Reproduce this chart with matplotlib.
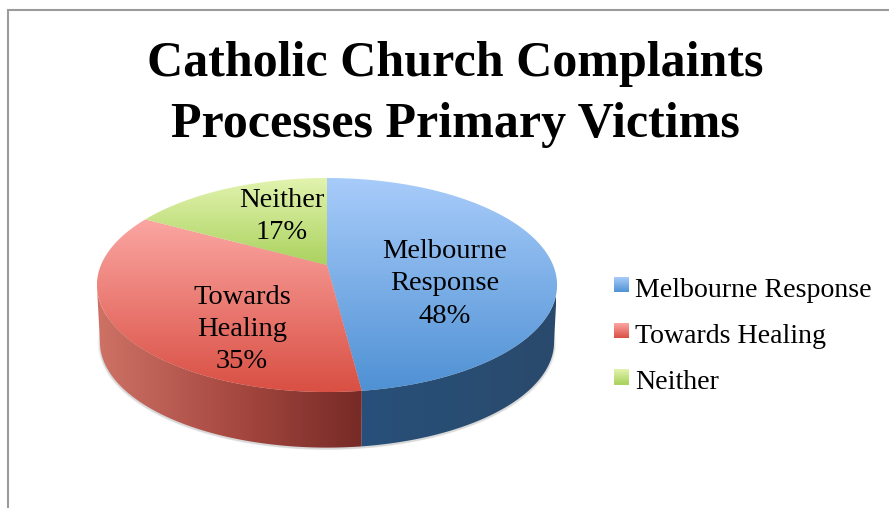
import numpy as np
import matplotlib
matplotlib.use("Agg")
import matplotlib.pyplot as plt
from matplotlib.patches import Polygon, Rectangle, Patch
from matplotlib.colors import LinearSegmentedColormap
from matplotlib.legend_handler import HandlerBase

# ---- data ----
title = "Catholic Church Complaints\nProcesses Primary Victims"
categories = ["Melbourne Response", "Towards Healing", "Neither"]
slice_labels = ["Melbourne\nResponse", "Towards\nHealing", "Neither"]
values = [48, 35, 17]

# ---- styles ----
FONT = ["Liberation Serif", "DejaVu Serif"]
top_colors = [("#A8CCFA", "#4F91D4"), ("#FBA6A2", "#D94F43"), ("#E2F3AE", "#ABD25F")]
wall_colors = [["#28507A", "#2A4A6C"], ["#CE7266", "#A84A42", "#772A26"]]
label_pos = [(445, 284), (242, 329.5), (282, 216.5)]
legend_fs = 20.1
label_fs = 20.5

fig = plt.figure(figsize=(8.89, 5.08), dpi=100, facecolor="white")
ax = fig.add_axes([0, 0, 1, 1])
ax.set_xlim(0, 889)
ax.set_ylim(508, 0)
ax.axis("off")

# perspective projection of the unit disc on to the picture
CX, CY0, R, K, A = 327.0, 265.0, 226.0, 0.187, -53.7
ELL_CY = 285.0
DEPTH, BOTTOM_SCALE = 57.0, 0.987


def project(px, py):
    w = 1 + K * py
    return CX + R * px / w, (CY0 + A * py) / w


def arc(frac0, frac1, n=200):
    t = 2 * np.pi * np.linspace(frac0, frac1, n)
    return project(np.sin(t), np.cos(t))


def lower(x, y, s=BOTTOM_SCALE, d=DEPTH):
    return CX + (x - CX) * s, ELL_CY + (y - ELL_CY) * s + d


def gradient(poly, extent, cmap, horizontal=False, z=2):
    g = np.linspace(0, 1, 256)
    g = g[None, :] if horizontal else g[:, None]
    x0, x1, y0, y1 = extent
    im = ax.imshow(g, extent=(x0, x1, y1, y0), cmap=cmap, aspect="auto",
                   vmin=0, vmax=1, zorder=z, interpolation="bilinear")
    patch = Polygon(poly, closed=True, transform=ax.transData, fill=False, lw=0)
    ax.add_patch(patch)
    im.set_clip_path(patch)
    return im


total = sum(values)
edges = np.concatenate([[0], np.cumsum(values)]) / total

# soft shadow under the disc
xa, ya = arc(0, 1, 300)
for grow, alpha in [(1.010, 0.035), (1.006, 0.05), (1.003, 0.07)]:
    xs, ys = lower(xa, ya, BOTTOM_SCALE * grow, DEPTH + 1.5)
    ax.add_patch(Polygon(np.c_[xs, ys], closed=True, fc="black", ec="none", alpha=alpha, zorder=1))

# side walls: only the two front slices show a wall, from the silhouette to the seam
xt, yt = arc(edges[0], edges[1])
keep = np.argmax(xt)
xt, yt = xt[keep:], yt[keep:]
xb, yb = lower(xt, yt)
gradient(np.r_[np.c_[xt, yt], np.c_[xb, yb][::-1]], (360, 556, 170, 450),
         LinearSegmentedColormap.from_list("w0", wall_colors[0]), horizontal=True)

xt, yt = arc(edges[1], edges[2])
keep = np.argmin(xt)
xt, yt = xt[:keep + 1], yt[:keep + 1]
xb, yb = lower(xt, yt)
gradient(np.r_[np.c_[xt, yt], np.c_[xb, yb][::-1]], (97, 362, 170, 450),
         LinearSegmentedColormap.from_list("w1", wall_colors[1]), horizontal=True)

# top faces
for i in range(len(values)):
    xt, yt = arc(edges[i], edges[i + 1])
    ox, oy = project(0.0, 0.0)
    poly = np.r_[[[ox, oy]], np.c_[xt, yt]]
    cm = LinearSegmentedColormap.from_list(f"t{i}", top_colors[i])
    gradient(poly, (poly[:, 0].min(), poly[:, 0].max(), poly[:, 1].min(), poly[:, 1].max()), cm, z=3)

# slice labels
for lab, v, (x, y) in zip(slice_labels, values, label_pos):
    ax.text(x, y, f"{lab}\n{v}%", ha="center", va="center", family=FONT,
            fontsize=label_fs, color="black", linespacing=1.37, zorder=5)

# title
ax.text(455, 94.5, title, ha="center", va="center", family=FONT, fontweight="bold",
        fontsize=36, color="black", linespacing=1.42, zorder=5)

# frame of the chart (top and left visible)
ax.plot([8, 8, 889], [508, 10, 10], color="#9B9B9B", lw=1.5, zorder=0, solid_joinstyle="miter")


# legend with gradient keys
class GradHandler(HandlerBase):
    def __init__(self, c0, c1):
        super().__init__()
        self.cm = LinearSegmentedColormap.from_list("k", [c0, c1])

    def create_artists(self, legend, orig, xd, yd, w, h, fs, trans):
        n = 15
        side = w
        y0 = -yd + h / 2 - side / 2 + 1.5
        return [Rectangle((-xd, y0 + side * (n - 1 - j) / n), side, side / n + 0.3,
                          fc=self.cm((j + 0.5) / n), ec="none", transform=trans) for j in range(n)]


handles = [Patch(label=c) for c in categories]
leg = ax.legend(handles=handles, loc="upper left", bbox_to_anchor=(614, 277),
                bbox_transform=ax.transData, frameon=False, borderpad=0, borderaxespad=0,
                prop={"family": FONT, "size": legend_fs}, handlelength=0.54, handleheight=0.7,
                handletextpad=0.21, labelspacing=0.74,
                handler_map={h: GradHandler(*c) for h, c in zip(handles, top_colors)})
leg.set_zorder(5)

fig.savefig("out.png", dpi=100, facecolor="white")
